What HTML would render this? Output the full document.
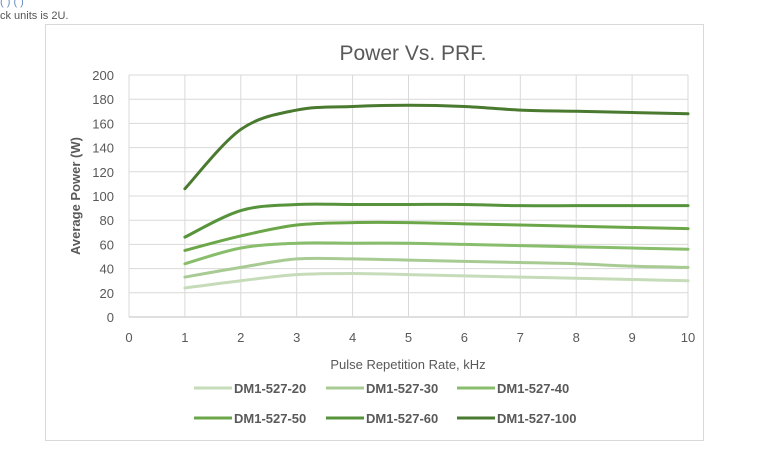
<!DOCTYPE html>
<html><head><meta charset="utf-8"><style>
body{margin:0;background:#fff;width:765px;height:470px;overflow:hidden;font-family:"Liberation Sans",sans-serif}
</style></head><body>
<svg width="765" height="470" xmlns="http://www.w3.org/2000/svg">
<text x="0" y="5" font-size="11" fill="#6a8bc0">(                      )                                                                         (  )</text>
<text x="0" y="19" font-size="11" fill="#555">ck units is 2U.</text>
<rect x="45.5" y="24.5" width="658" height="416" fill="#fff" stroke="#d9d9d9"/>
<text x="413" y="60" font-size="21" fill="#595959" text-anchor="middle">Power Vs. PRF.</text>
<g id="grid"></g>
<g id="series"></g>
<text x="0" y="0" transform="translate(80,196) rotate(-90)" font-size="13" font-weight="bold" fill="#595959" text-anchor="middle">Average Power (W)</text>
<text x="408" y="369" font-size="13" fill="#595959" text-anchor="middle">Pulse Repetition Rate, kHz</text>
<g id="legend"></g>
</svg>
<script>
const xValues=[1,2,3,4,5,6,7,8,9,10];
const seriesNames=["DM1-527-20","DM1-527-30","DM1-527-40","DM1-527-50","DM1-527-60","DM1-527-100"];
const s20=[24,30,35,36,35,34,33,32,31,30];
const s30=[33,41,48,48,47,46,45,44,42,41];
const s40=[44,57,61,61,61,60,59,58,57,56];
const s50=[55,67,76,78,78,77,76,75,74,73];
const s60=[66,88,93,93,93,93,92,92,92,92];
const s100=[106,155,171,174,175,174,171,170,169,168];
const yTicks=[0,20,40,60,80,100,120,140,160,180,200];
const xTicks=[0,1,2,3,4,5,6,7,8,9,10];
const seriesData=[s20,s30,s40,s50,s60,s100];
const colors=["#c6dcb9","#a8cb93","#88be6b","#6ba748","#56933b","#4a7a2f"];
const NS="http://www.w3.org/2000/svg";
const X0=129,X1=688,Y0=317,Y1=75;
const sx=v=>X0+(v-0)/(10-0)*(X1-X0);
const sy=v=>Y0-(v-0)/(200-0)*(Y0-Y1);
const grid=document.getElementById('grid');
function mk(t,a,p){const e=document.createElementNS(NS,t);for(const k in a)e.setAttribute(k,a[k]);p.appendChild(e);return e;}
yTicks.forEach(t=>{
 const l=mk('line',{x1:X0,x2:X1,y1:sy(t),y2:sy(t),stroke:t===0?'#bfbfbf':'#d9d9d9','stroke-width':1},grid);
 
 
 const tx=mk('text',{x:114,y:sy(t)+5,'font-size':13,fill:'#595959','text-anchor':'end'},grid);
 tx.textContent=t;
 
 
});
xTicks.forEach(t=>{
 const l=mk('line',{x1:sx(t),x2:sx(t),y1:Y1,y2:Y0,stroke:'#d9d9d9','stroke-width':1},grid);
 
 
 const tx=mk('text',{x:sx(t),y:342,'font-size':13,fill:'#595959','text-anchor':'middle'},grid);
 tx.textContent=t;
 
 
});
function smooth(pts){
 let d=`M${pts[0][0]},${pts[0][1]}`;
 for(let i=0;i<pts.length-1;i++){
  const p0=pts[i-1]||pts[i],p1=pts[i],p2=pts[i+1],p3=pts[i+2]||p2;
  const c1=[p1[0]+(p2[0]-p0[0])/6,p1[1]+(p2[1]-p0[1])/6];
  const c2=[p2[0]-(p3[0]-p1[0])/6,p2[1]-(p3[1]-p1[1])/6];
  d+=` C${c1[0]},${c1[1]} ${c2[0]},${c2[1]} ${p2[0]},${p2[1]}`;
 }
 return d;
}
const sg=document.getElementById('series');
seriesData.forEach((arr,i)=>{
 const pts=arr.map((v,j)=>[sx(xValues[j]),sy(v)]);
 const p=mk('path',{d:smooth(pts),fill:'none',stroke:colors[i],'stroke-width':3,'stroke-linecap':'round'},sg);
 
 
});
const lg=document.getElementById('legend');
const lx=[194,326,457],ly=[388,418];
seriesNames.forEach((n,i)=>{
 const x=lx[i%3],y=ly[Math.floor(i/3)];
 const l=mk('line',{x1:x,x2:x+38,y1:y,y2:y,stroke:colors[i],'stroke-width':3},lg);
 
 
 const t=mk('text',{x:x+40,y:y+5,'font-size':13,'font-weight':'bold',fill:'#595959'},lg);
 t.textContent=n;
 
 
});
</script>
</body></html>
